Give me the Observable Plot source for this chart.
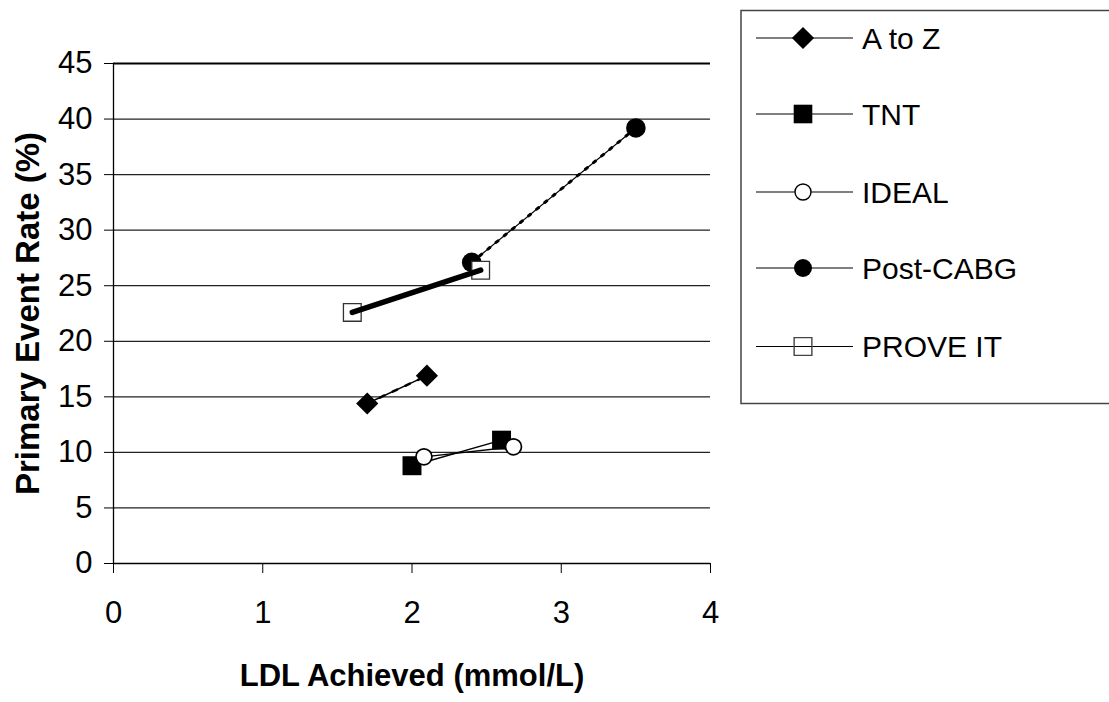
<!DOCTYPE html>
<html>
<head>
<meta charset="utf-8">
<script src="https://cdn.jsdelivr.net/npm/d3@7"></script>
<script src="https://cdn.jsdelivr.net/npm/@observablehq/plot@0.6"></script>
<style>
  html, body { margin: 0; padding: 0; background: #fff; overflow: hidden; }
  #chart { position: relative; width: 1109px; height: 702px; }
</style>
</head>
<body>
<div id="chart"></div>
<script>
// ---- data ----
const seriesNames = ["A to Z", "TNT", "IDEAL", "Post-CABG", "PROVE IT"];
const aToZLdl = [1.7, 2.1];
const aToZRate = [14.4, 16.9];
const tntLdl = [2.0, 2.6];
const tntRate = [8.8, 11.1];
const idealLdl = [2.08, 2.68];
const idealRate = [9.6, 10.5];
const cabgLdl = [2.4, 3.5];
const cabgRate = [27.1, 39.2];
const proveLdl = [1.6, 2.46];
const proveRate = [22.6, 26.4];
const xTicks = [0, 1, 2, 3, 4];
const yTicks = [0, 5, 10, 15, 20, 25, 30, 35, 40, 45];
const xTitle = "LDL Achieved (mmol/L)";
const yTitle = "Primary Event Rate (%)";

const toRows = (name, xs, ys) => xs.map((x, i) => ({series: name, ldl: x, rate: ys[i]}));
const aToZ = toRows(seriesNames[0], aToZLdl, aToZRate);
const tnt = toRows(seriesNames[1], tntLdl, tntRate);
const ideal = toRows(seriesNames[2], idealLdl, idealRate);
const cabg = toRows(seriesNames[3], cabgLdl, cabgRate);
const prove = toRows(seriesNames[4], proveLdl, proveRate);

const FONT = "'Liberation Sans', Arial, Helvetica, sans-serif";

const svg = Plot.plot({
  width: 1109,
  height: 702,
  marginLeft: 113,
  marginRight: 399,
  marginTop: 63,
  marginBottom: 139,
  style: {fontFamily: FONT, fontSize: "31px", color: "#000", background: "#fff", overflow: "visible"},
  x: {domain: [0, 4]},
  y: {domain: [0, 45]},
  marks: [
    // gridlines
    Plot.ruleY(yTicks.filter(d => d > 0 && d < 45), {stroke: "#222", strokeWidth: 1.2}),
    Plot.ruleY([45], {stroke: "#000", strokeWidth: 2}),
    // axes
    Plot.axisY({ticks: yTicks, tickSize: 9, tickPadding: 12, fontSize: 31, label: null, stroke: "#000"}),
    Plot.axisX({ticks: xTicks, tickSize: 10, tickPadding: 27, fontSize: 31, label: null, stroke: "#000", tickFormat: d3.format("d")}),
    Plot.ruleX([0], {stroke: "#000", strokeWidth: 1.3}),
    Plot.ruleY([0], {stroke: "#000", strokeWidth: 1.3}),
    // A to Z
    Plot.line(aToZ, {x: "ldl", y: "rate", stroke: "#000", strokeWidth: 1.4}),
    Plot.line(aToZ, {x: "ldl", y: "rate", stroke: "#000", strokeWidth: 2.5, strokeDasharray: "5,9"}),
    Plot.dot(aToZ, {x: "ldl", y: "rate", symbol: "diamond2", r: 10, fill: "#000", stroke: "none"}),
    // TNT
    Plot.line(tnt, {x: "ldl", y: "rate", stroke: "#000", strokeWidth: 1.4}),
    Plot.dot(tnt, {x: "ldl", y: "rate", symbol: "square", r: 10.7, fill: "#000", stroke: "none"}),
    // IDEAL
    Plot.line(ideal, {x: "ldl", y: "rate", stroke: "#000", strokeWidth: 1.4}),
    Plot.dot(ideal, {x: "ldl", y: "rate", r: 8, fill: "#fff", stroke: "#000", strokeWidth: 1.7}),
    // Post-CABG
    Plot.line(cabg, {x: "ldl", y: "rate", stroke: "#000", strokeWidth: 1.2}),
    Plot.line(cabg, {x: "ldl", y: "rate", stroke: "#000", strokeWidth: 3, strokeDasharray: "2.5,8"}),
    Plot.dot(cabg, {x: "ldl", y: "rate", r: 9.8, fill: "#000", stroke: "none"}),
    // PROVE IT
    Plot.dot(prove, {x: "ldl", y: "rate", symbol: "square", r: 10, fill: "#fff", stroke: "#333", strokeWidth: 1.3}),
    Plot.line(prove, {x: "ldl", y: "rate", stroke: "#000", strokeWidth: 5.5}),
    // titles
    Plot.text([yTitle], {frameAnchor: "left", rotate: -90, dx: -85, fontSize: 33, fontWeight: "bold", fill: "#000", textAnchor: "middle", lineAnchor: "middle"}),
    Plot.text([xTitle], {frameAnchor: "bottom", dy: 113, fontSize: 31, fontWeight: "bold", fill: "#000", textAnchor: "middle", lineAnchor: "middle"})
  ]
});

// ---- legend (boxed, to the right) ----
const g = d3.select(svg).append("g").attr("font-family", FONT).attr("text-anchor", "start");
g.append("rect").attr("x", 741).attr("y", 10.5).attr("width", 420).attr("height", 393)
  .attr("fill", "#fff").attr("stroke", "#444").attr("stroke-width", 1.5);
const legendY = [38, 114, 192, 268, 346.5];
const sym = (type, r) => d3.symbol(type, Math.PI * r * r)();
const legendMarkers = [
  {path: sym(d3.symbolDiamond2, 10), fill: "#000", stroke: "none"},
  {path: sym(d3.symbolSquare, 10.5), fill: "#000", stroke: "none"},
  {path: sym(d3.symbolCircle, 8), fill: "#fff", stroke: "#000"},
  {path: sym(d3.symbolCircle, 9), fill: "#000", stroke: "none"},
  {path: sym(d3.symbolSquare, 10), fill: "none", stroke: "#444"}
];
seriesNames.forEach((name, i) => {
  const y = legendY[i];
  const item = g.append("g");
  item.append("line").attr("x1", 756).attr("x2", 853).attr("y1", y).attr("y2", y)
    .attr("stroke", "#000").attr("stroke-width", 1.2);
  const m = legendMarkers[i];
  item.append("path").attr("d", m.path).attr("transform", `translate(803,${y})`)
    .attr("fill", m.fill).attr("stroke", m.stroke).attr("stroke-width", 1.4);
  item.append("text").attr("x", 862).attr("y", y).attr("dy", "0.36em")
    .attr("font-size", 30).attr("fill", "#000").attr("text-anchor", "start").text(name);
});

document.getElementById("chart").appendChild(svg);
</script>
</body>
</html>
